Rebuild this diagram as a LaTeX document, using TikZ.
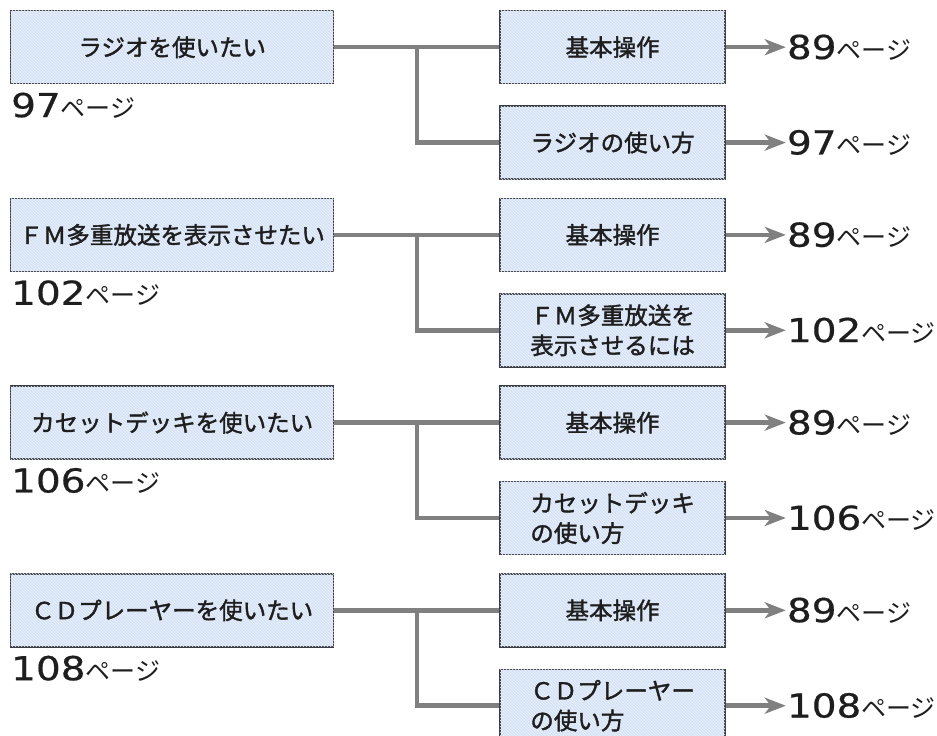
\documentclass[tikz,border=0pt]{standalone}
\usepackage{fontspec}
\setmainfont{Noto Sans CJK JP}
\newfontfamily\boxfont[FakeBold=1.6]{Noto Sans CJK JP}
\newfontfamily\numfont[FakeStretch=1.18, FakeBold=0.6]{DejaVu Sans}
\usetikzlibrary{arrows.meta,positioning,calc,patterns}

\definecolor{boxfill}{RGB}{214,227,246}
\definecolor{boxline}{RGB}{58,60,70}
\definecolor{linkgray}{RGB}{128,128,128}
\definecolor{inkgray}{RGB}{30,30,30}

% page reference: big number + small suffix
\newcommand{\pg}[1]{{\numfont #1}{\fontsize{25}{25}\selectfont ページ}}

\begin{document}
\begin{tikzpicture}[x=1pt, y=-1pt, >={Stealth[length=21pt, width=16pt, inset=6pt]},
  topicbox/.style={draw=boxline, line width=1.4pt, fill=boxfill,
    postaction={pattern=north west lines, pattern color=white!55!boxfill},
    minimum width=323pt, minimum height=73pt, inner sep=0pt, text=inkgray,
    font=\boxfont\fontsize{23.5}{30}\selectfont},
  itembox/.style={topicbox, minimum width=225pt, align=left},
  link/.style={draw=linkgray, line width=4.5pt},
  pagelbl/.style={inner sep=0pt, text=inkgray, font=\fontsize{33}{33}\selectfont}]
\useasboundingbox (0,0) rectangle (937,736);
\foreach \i/\want/\how/\pgno in {
  0/{ラジオを使いたい}/{ラジオの使い方}/97,
  1/{ＦＭ多重放送を表示させたい}/{ＦＭ多重放送を\\表示させるには}/102,
  2/{カセットデッキを使いたい}/{カセットデッキ\\の使い方}/106,
  3/{ＣＤプレーヤーを使いたい}/{ＣＤプレーヤー\\の使い方}/108}{
  % topic on the left, two choices on the right
  \node[topicbox, anchor=north west] (want\i) at (10, 10+187.7*\i) {\want};
  \node[itembox, right=165pt of want\i] (basic\i) {基本操作};
  \node[itembox, below=21pt of basic\i] (how\i) {\how};
  % page references
  \node[pagelbl, below=8pt of want\i.south west, anchor=north west, xshift=1pt] (wantpg\i) {\pg{\pgno}};
  \node[pagelbl, right=61pt of basic\i] (basicpg\i) {\pg{89}};
  \node[pagelbl, right=61pt of how\i] (howpg\i) {\pg{\pgno}};
  % branches
  \draw[link] (want\i.east) -- (basic\i.west);
  \draw[link] ($(want\i.east)!0.5!(basic\i.west)$) |- (how\i.west);
  \draw[link, ->, shorten >=1pt] (basic\i.east) -- (basicpg\i.west);
  \draw[link, ->, shorten >=1pt] (how\i.east) -- (howpg\i.west);
}
\end{tikzpicture}
\end{document}
